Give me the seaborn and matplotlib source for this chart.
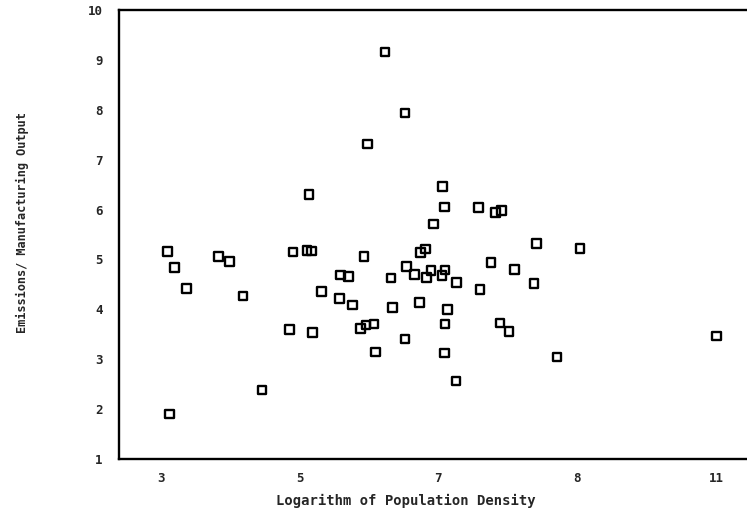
import matplotlib
matplotlib.use("Agg")
import matplotlib.pyplot as plt
import seaborn as sns
import pandas as pd

# Data
log_density = [
    3.095, 3.196, 3.369, 3.130, 3.836, 3.994, 4.186, 4.460, 4.859, 4.906,
    5.108, 5.176, 5.190, 5.314, 5.140, 5.594, 5.709, 5.573, 5.761, 5.929,
    5.882, 5.958, 6.073, 6.098, 6.318, 6.343, 6.520, 6.545, 6.660, 6.726,
    6.746, 6.818, 6.833, 6.895, 6.934, 6.235, 6.522, 5.977, 7.061, 7.086,
    7.582, 7.827, 7.914, 8.412, 9.042, 7.759, 8.101, 7.097, 7.053, 7.259,
    7.601, 8.379, 7.135, 7.097, 7.889, 8.019, 7.086, 8.710, 7.255, 11.005,
]
emissions_ratio = [
    5.154, 4.834, 4.420, 1.900, 5.060, 4.954, 4.266, 2.386, 3.594, 5.146,
    5.180, 5.166, 3.540, 4.354, 6.300, 4.686, 4.660, 4.220, 4.086, 5.054,
    3.614, 3.686, 3.706, 3.146, 4.626, 4.034, 3.406, 4.854, 4.700, 4.134,
    5.134, 5.206, 4.634, 4.780, 5.714, 9.154, 7.934, 7.314, 6.466, 6.054,
    6.046, 5.940, 5.980, 5.314, 5.214, 4.934, 4.800, 4.786, 4.680, 4.534,
    4.400, 4.514, 3.994, 3.706, 3.726, 3.554, 3.126, 3.046, 2.566, 3.466,
]
x_major_ticks = [3, 4, 5, 6, 7, 8, 9, 10, 11]
x_label_ticks = [3, 5, 7, 9, 11]
x_tick_labels = ["3", "5", "7", "8", "11"]
y_ticks = [1, 2, 3, 4, 5, 6, 7, 8, 9, 10]
x_title = "Logarithm of Population Density"
y_title = "Emissions/ Manufacturing Output"

df = pd.DataFrame({"x": log_density, "y": emissions_ratio})

sns.set_style("white")
plt.rcParams["font.family"] = ["DejaVu Sans Mono", "DejaVu Sans"]

fig = plt.figure(figsize=(7.47, 5.14), dpi=100)
ax = fig.add_axes([119.4 / 747, 55 / 514, (747 - 119.4) / 747, 449 / 514])

sns.scatterplot(data=df, x="x", y="y", ax=ax, marker="s", s=38,
                facecolor="none", edgecolor="black", linewidth=1.7)

ax.set_xlim(2.405, 11.448)
ax.set_ylim(1, 10)

ax.set_xticks(x_major_ticks)
ax.set_xticklabels(["" if t not in x_label_ticks else x_tick_labels[x_label_ticks.index(t)]
                    for t in x_major_ticks])
ax.set_yticks(y_ticks)
ax.set_yticklabels([str(v) for v in y_ticks])

ax.tick_params(axis="x", direction="in", length=7, width=1.4, color="black",
               pad=9, labelsize=9)
ax.tick_params(axis="y", direction="in", length=7, width=1.4, color="black",
               pad=12, labelsize=9)
for lab in ax.get_xticklabels() + ax.get_yticklabels():
    lab.set_fontweight("bold")

for side in ["left", "bottom", "top"]:
    ax.spines[side].set_visible(True)
    ax.spines[side].set_color("black")
    ax.spines[side].set_linewidth(1.7)
ax.spines["right"].set_visible(False)

ax.set_xlabel(x_title, fontsize=10, fontweight="bold")
ax.set_ylabel(y_title, fontsize=8.6, fontweight="bold")
ax.xaxis.set_label_coords(0.457, -0.0935)
ax.yaxis.set_label_coords(-0.155, 0.526)
ax.xaxis.label.set_va("center")
ax.yaxis.label.set_va("center")

fig.savefig("out.png", dpi=100)
